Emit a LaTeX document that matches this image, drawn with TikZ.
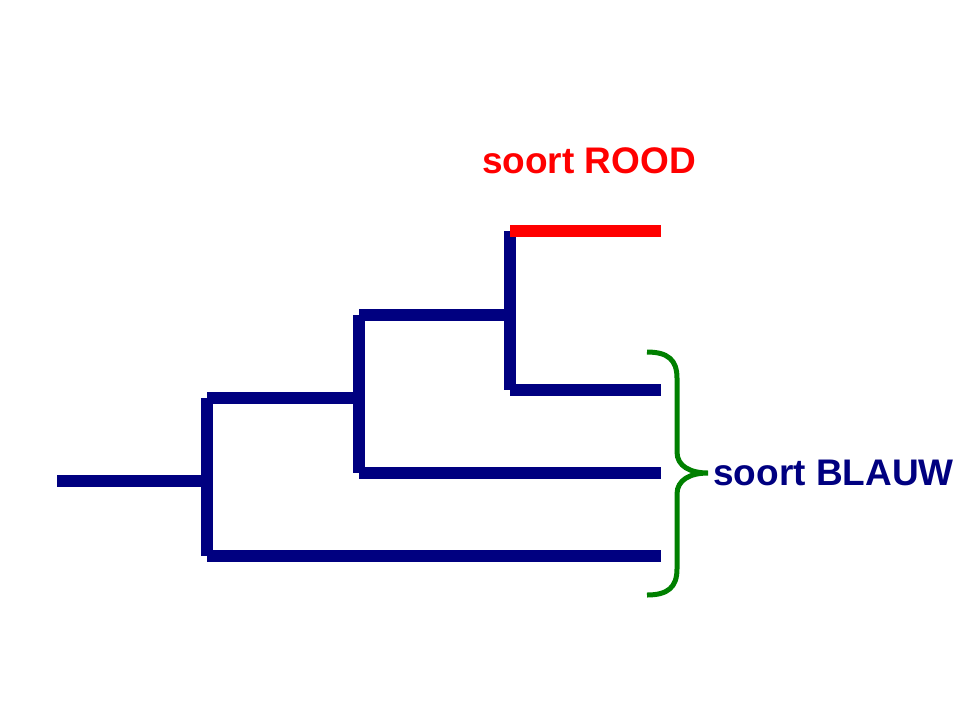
\documentclass[tikz,border=0pt]{standalone}
\usepackage{fontspec}
\setmainfont{Liberation Sans}
\definecolor{navy}{RGB}{0,0,128}
\definecolor{rood}{RGB}{255,0,0}
\definecolor{groen}{RGB}{0,128,0}
\tikzset{
  tak/.style={line width=6.25pt,color=navy},
  roodtak/.style={line width=6.25pt,color=rood},
  accolade/.style={line width=2.5pt,color=groen},
  soort/.style={font=\bfseries\fontsize{18.5}{20}\selectfont,inner sep=0pt}
}

\begin{document}
\begin{tikzpicture}[x=0.5pt,y=-0.5pt]
          \useasboundingbox (0,0) rectangle (960,720);
          \coordinate (wortel) at (57,481);
          \coordinate (k1) at (207,481);
          \coordinate (k1a) at (207,398);
          \coordinate (k1b) at (207,556);
          \coordinate (k2) at (359,398);
          \coordinate (k2a) at (359,315);
          \coordinate (k2b) at (359,473);
          \coordinate (k3) at (510,315);
          \coordinate (k3a) at (510,231);
          \coordinate (k3b) at (510,390);
          \coordinate (rood) at (661,231);
          \coordinate (blauw1) at (661,390);
          \coordinate (blauw2) at (661,473);
          \coordinate (blauw3) at (661,556);
          \draw [tak] (wortel) -- (k1);
          \draw [tak] (k1a) -- (k1b);
          \draw [tak] (k1a) -- (k2);
          \draw [tak] (k1b) -- (blauw3);
          \draw [tak] (k2a) -- (k2b);
          \draw [tak] (k2a) -- (k3);
          \draw [tak] (k2b) -- (blauw2);
          \draw [tak] (k3a) -- (k3b);
          \draw [roodtak] (k3a) -- (rood);
          \draw [tak] (k3b) -- (blauw1);
          \coordinate (accboven) at (647,352);
          \coordinate (accpunt) at (708,473);
          \coordinate (acconder) at (647,595);
          \draw [accolade] (accboven) .. controls (668,352) and (677,360) .. (677,378)
                -- (677,452) .. controls (677,466) and (690,473) .. (accpunt)
                .. controls (690,473) and (677,480) .. (677,494)
                -- (677,569) .. controls (677,587) and (668,595) .. (acconder);
          \node [soort,text=rood,anchor=base] (lblrood) at (589,173) {soort ROOD};
          \node [soort,text=navy,anchor=base west] (lblblauw) at (713,485) {soort BLAUW};
\end{tikzpicture}
\end{document}
